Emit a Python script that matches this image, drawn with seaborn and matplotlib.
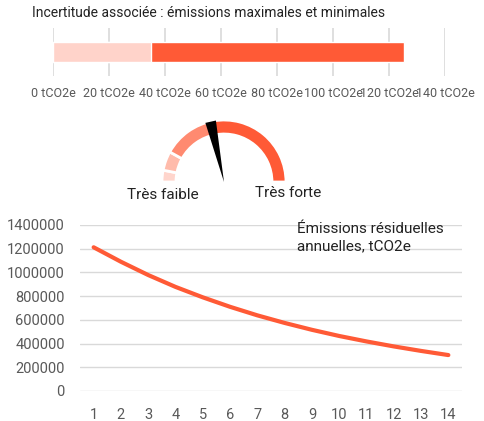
import numpy as np
import seaborn as sns
import matplotlib.pyplot as plt
from matplotlib.patches import Wedge, Polygon

# incertitude (tCO2e)
incertitude_cat = ['Incertitude']
emission_min = [35]
emission_max = [125.5]
bar_ticks = [0, 20, 40, 60, 80, 100, 120, 140]

# jauge : bornes des segments en degrés depuis la gauche, aiguille
gauge_bounds = [0, 11, 29, 80, 180]
gauge_colors = ['#FFD5CC', '#FFBBAB', '#FF8A70', '#FF5A36']
gauge_needle = 77.5
gauge_labels = ['Très faible', 'Très forte']

# émissions résiduelles annuelles
annees = list(range(1, 15))
emissions = [1212000, 1090000, 978000, 878000, 790000, 710000, 638000,
             574000, 516000, 464000, 418000, 376000, 338000, 303000]

sns.set_theme(style="white")
plt.rcParams['font.family'] = ['Roboto', 'DejaVu Sans']

rouge = '#FF5A36'
rose = '#FFD3CA'
gris_txt = '#595959'
gris_grille = '#D9D9D9'

W, H = 484, 421
fig = plt.figure(figsize=(W / 100, H / 100), dpi=100)


def box(x0, y0, x1, y1):
    # pixels (haut-gauche) -> coordonnées figure
    return [x0 / W, 1 - y1 / H, (x1 - x0) / W, (y1 - y0) / H]


# --- barre d'incertitude ---
ax1 = fig.add_axes(box(53, 28, 445, 76))
sns.barplot(x=emission_max, y=incertitude_cat, color=rouge, width=0.5,
            saturation=1, orient='h', ax=ax1, zorder=3)
sns.barplot(x=emission_min, y=incertitude_cat, color=rose, width=0.5,
            saturation=1, orient='h', ax=ax1, zorder=3)
ax1.set_xlim(0, 140)
ax1.set_ylim(0.6, -0.6)
ax1.set_xticks(bar_ticks)
ax1.set_xticklabels([f'{t} tCO2e' for t in bar_ticks], fontsize=9, color=gris_txt)
ax1.set_yticks([])
ax1.set_xlabel('')
ax1.set_ylabel('')
ax1.grid(axis='x', color=gris_grille, linewidth=1.2, zorder=0)
ax1.tick_params(axis='x', length=0, pad=8)
for s in ax1.spines.values():
    s.set_visible(False)
fig.text(32 / W, 1 - 13 / H, 'Incertitude associée : émissions maximales et minimales',
         fontsize=10, color='#222222', va='center', ha='left')

# --- jauge ---
ax2 = fig.add_axes(box(140, 110, 310, 205))
ax2.set_xlim(140, 310)
ax2.set_ylim(H - 205, H - 110)
ax2.set_aspect('equal')
ax2.axis('off')
cx, cy, R, ep = 224, H - 182, 62, 14
for i, col in enumerate(gauge_colors):
    a1 = 180 - gauge_bounds[i]
    a0 = 180 - gauge_bounds[i + 1]
    ax2.add_patch(Wedge((cx, cy), R, a0, a1, width=ep, facecolor=col,
                        edgecolor='white', linewidth=2))
ang = np.radians(180 - gauge_needle)
d = np.radians(5)
pts = [(cx, cy),
       (cx + R * np.cos(ang - d), cy + R * np.sin(ang - d)),
       (cx + R * np.cos(ang + d), cy + R * np.sin(ang + d))]
ax2.add_patch(Polygon(pts, closed=True, facecolor='black', edgecolor='none'))
fig.text(163 / W, 1 - 195 / H, gauge_labels[0], fontsize=11, color='#222222',
         ha='center', va='center')
fig.text(288 / W, 1 - 193 / H, gauge_labels[1], fontsize=11, color='#222222',
         ha='center', va='center')

# --- émissions résiduelles ---
ax3 = fig.add_axes(box(80, 225, 462, 391))
sns.lineplot(x=annees, y=emissions, color=rouge, linewidth=3, ax=ax3)
ax3.set_xlim(0.5, 14.5)
ax3.set_ylim(0, 1400000)
ax3.set_xticks(annees)
ax3.set_yticks(range(0, 1400001, 200000))
ax3.set_yticklabels([str(v) for v in range(0, 1400001, 200000)])
ax3.tick_params(axis='both', length=0, labelsize=10.5, colors=gris_txt)
ax3.tick_params(axis='y', pad=11)
ax3.tick_params(axis='x', pad=12)
ax3.grid(axis='y', color=gris_grille, linewidth=1)
ax3.set_axisbelow(True)
for s in ax3.spines.values():
    s.set_visible(False)
ax3.text(297 / W, 1 - 238 / H, 'Émissions résiduelles\nannuelles, tCO2e',
         transform=fig.transFigure, fontsize=11, color='#222222',
         ha='left', va='center', linespacing=1.3)

fig.savefig('out.png', dpi=100)
